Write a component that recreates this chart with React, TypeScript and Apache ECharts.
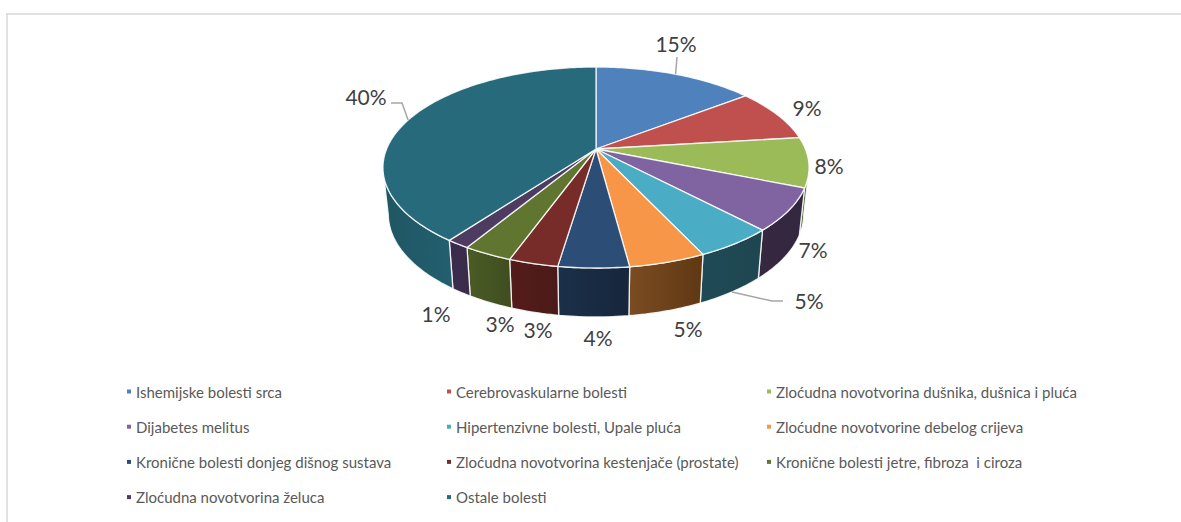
import React, { useEffect, useRef } from "react";
import * as echarts from "echarts";

const categories = [
  "Ishemijske bolesti srca",
  "Cerebrovaskularne bolesti",
  "Zloćudna novotvorina dušnika, dušnica i pluća",
  "Dijabetes melitus",
  "Hipertenzivne bolesti, Upale pluća",
  "Zloćudne novotvorine debelog crijeva",
  "Kronične bolesti donjeg dišnog sustava",
  "Zloćudna novotvorina kestenjače (prostate)",
  "Kronične bolesti jetre, fibroza  i ciroza",
  "Zloćudna novotvorina želuca",
  "Ostale bolesti",
];
const values = [14.6, 8.5, 8.0, 6.8, 5.1, 4.9, 4.49, 3.15, 3.15, 1.5, 39.81];
const percentLabels = ["15%", "9%", "8%", "7%", "5%", "5%", "4%", "3%", "3%", "1%", "40%"];

const topColors = ["#4F81BD", "#C0504D", "#9BBB59", "#8064A2", "#4BACC6", "#F79646", "#2C4D75", "#772C2A", "#5F7530", "#4D3B62", "#276A7C"];
const wallColors = [
  ["#3a5f8c", "#34557e"],
  ["#7d3331", "#6f2d2b"],
  ["#556b2f", "#4c5f2a"],
  ["#35283f", "#33273f"],
  ["#1f4a55", "#1e4650"],
  ["#7c4c22", "#5f3813"],
  ["#1b3049", "#16263c"],
  ["#541c1a", "#4b1a18"],
  ["#4b5c26", "#3f4d1f"],
  ["#3b2c4d", "#3a2b4a"],
  ["#1f5664", "#235f6e"],
];

// Label text centres, and leader-line bends, in page pixels.
const labelCentres = [[676, 43], [807, 107], [829, 165], [813, 249], [809, 300], [688, 328], [598, 337], [538, 329], [500, 323], [436, 313], [366, 96]];
const leaderBends: (number[][] | null)[] = [
  [[677, 57]], null, null, null,
  [[772, 301], [783, 301]], null, null, null, null, null,
  [[402, 103], [391, 103]],
];
const legendColumns = [
  { left: 127, names: [0, 3, 6, 9] },
  { left: 447, names: [1, 4, 7, 10] },
  { left: 767, names: [2, 5, 8] },
];

// Perspective projection of the pie's top plane.
const CX = 596, CY = 149, AX = 209.4, BY = 97.1, K = 0.184;
const WALL_SCALE = 0.975;
const total = values.reduce((a, b) => a + b, 0);
const starts = values.map((_, i) => values.slice(0, i).reduce((a, b) => a + b, 0));

function top(theta: number) {
  const u = Math.sin(theta), v = Math.cos(theta), w = 1 + K * v;
  return [CX + (AX * u) / w, CY - (BY * v) / w];
}
function bottom(theta: number) {
  const [x, y] = top(theta);
  return [CX + WALL_SCALE * (x - CX), y + 46 - 3 * Math.cos(theta)];
}
function arc(a: number, b: number, fn: (t: number) => number[]) {
  const n = Math.max(2, Math.ceil(Math.abs(b - a) / (Math.PI / 180)));
  const pts: number[][] = [];
  for (let i = 0; i <= n; i++) pts.push(fn(a + ((b - a) * i) / n));
  return pts;
}
const WALL_FROM = (101 * Math.PI) / 180, WALL_TO = (259 * Math.PI) / 180;
const EDGE = "rgba(255,255,255,0.85)";

function makeRender(i: number) {
  return () => {
    const a = (starts[i] / total) * 2 * Math.PI;
    const b = ((starts[i] + values[i]) / total) * 2 * Math.PI;
    const mid = (a + b) / 2;
    const children: any[] = [];
    const wa = Math.max(a, WALL_FROM), wb = Math.min(b, WALL_TO);
    if (wb > wa) {
      const points = [...arc(wa, wb, top), ...arc(wb, wa, bottom)];
      children.push({
        type: "polygon",
        shape: { points },
        style: {
          fill: new echarts.graphic.LinearGradient(0, 0, 1, 0, [
            { offset: 0, color: wallColors[i][0] },
            { offset: 1, color: wallColors[i][1] },
          ]),
          stroke: EDGE,
          lineWidth: 1.3,
          lineJoin: "round",
        },
      });
    }
    children.push({
      type: "polygon",
      shape: { points: [[CX, CY], ...arc(a, b, top)] },
      style: { fill: topColors[i], stroke: EDGE, lineWidth: 1.3, lineJoin: "round" },
    });
    const bends = leaderBends[i];
    if (bends) {
      const visibleFront = mid > WALL_FROM && mid < WALL_TO;
      const anchor = visibleFront ? bottom(mid) : top(mid);
      children.push({
        type: "polyline",
        shape: { points: [anchor, ...bends] },
        style: { fill: "none", stroke: "#a6a6a6", lineWidth: 1.5 },
      });
    }
    children.push({
      type: "text",
      x: labelCentres[i][0],
      y: labelCentres[i][1],
      style: {
        text: percentLabels[i],
        fill: "#404040",
        font: '21px Lato, "Open Sans", sans-serif',
        align: "center",
        verticalAlign: "middle",
      },
    });
    return { type: "group", children };
  };
}

export default function App() {
  const ref = useRef<HTMLDivElement>(null);
  useEffect(() => {
    document.body.style.margin = "0";
    document.body.style.background = "#fff";
    const chart = echarts.init(ref.current!, undefined, { renderer: "svg" });
    chart.setOption({
      animation: false,
      backgroundColor: "#ffffff",
      legend: legendColumns.map((col) => ({
        left: col.left,
        top: 383,
        orient: "vertical",
        icon: "rect",
        itemWidth: 4,
        itemHeight: 4,
        itemGap: 18.2,
        padding: 0,
        selectedMode: false,
        textStyle: { color: "#595959", fontFamily: "Lato, 'Open Sans', sans-serif", fontSize: 15, lineHeight: 17 },
        data: col.names.map((i) => categories[i]),
      })),
      graphic: [
        { type: "line", shape: { x1: 6, y1: 14, x2: 1181, y2: 14 }, style: { stroke: "#d9d9d9", lineWidth: 1.5 } },
        { type: "line", shape: { x1: 7, y1: 14, x2: 7, y2: 522 }, style: { stroke: "#d9d9d9", lineWidth: 1.5 } },
      ],
      series: categories.map((name, i) => ({
        type: "custom",
        name,
        coordinateSystem: "none",
        silent: true,
        itemStyle: { color: topColors[i] },
        data: [values[i]],
        renderItem: makeRender(i),
      })),
    });
    return () => chart.dispose();
  }, []);
  return <div ref={ref} style={{ width: 1181, height: 522 }} />;
}
